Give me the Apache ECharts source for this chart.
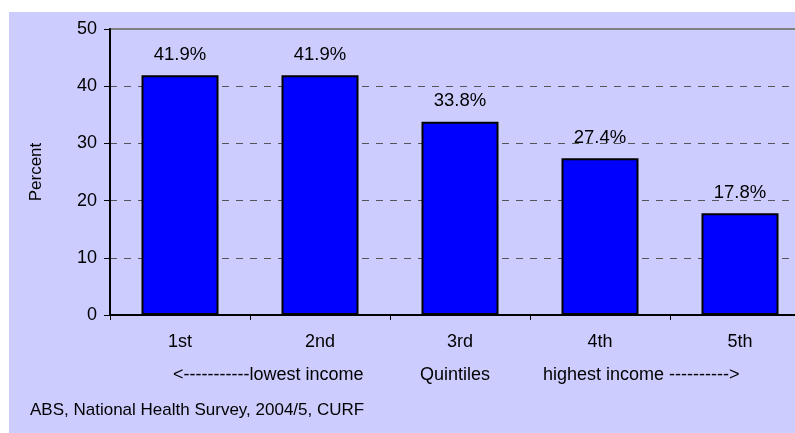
<!DOCTYPE html>
<html>
<head>
<meta charset="utf-8">
<script src="https://cdn.jsdelivr.net/npm/echarts@6/dist/echarts.min.js"></script>
<style>
  html, body { margin: 0; padding: 0; background: #fff; }
  #main { width: 795px; height: 433px; }
</style>
</head>
<body>
<div id="main"></div>
<script>
let quintiles = ['1st', '2nd', '3rd', '4th', '5th'];
let percents = [41.9, 41.9, 33.8, 27.4, 17.8];
let yTicks = [0, 10, 20, 30, 40, 50];
let source = 'ABS, National Health Survey, 2004/5, CURF';

let chart = echarts.init(document.getElementById('main'));
let font = 'Arial, "Liberation Sans", sans-serif';

let option = {
    animation: false,
    textStyle: { fontFamily: font },
    graphic: [
        {
            type: 'rect', z: -10,
            shape: { x: 9, y: 12, width: 800, height: 430 },
            style: { fill: '#ccccff' }
        },
        {
            type: 'text', left: 173, top: 366,
            style: { text: '<-----------lowest income', fontSize: 18, fontFamily: font, fill: '#000' }
        },
        {
            type: 'text', left: 420, top: 366,
            style: { text: 'Quintiles', fontSize: 18, fontFamily: font, fill: '#000' }
        },
        {
            type: 'text', left: 543, top: 366,
            style: { text: 'highest income ---------->', fontSize: 18, fontFamily: font, fill: '#000' }
        },
        {
            type: 'text', left: 30, top: 402,
            style: { text: source, fontSize: 17, fontFamily: font, fill: '#000' }
        }
    ],
    grid: {
        left: 110, top: 29, width: 700, height: 286,
        outerBoundsMode: 'none',
        containLabel: false,
        show: true, borderColor: '#808080', borderWidth: 2,
        backgroundColor: 'transparent'
    },
    xAxis: {
        type: 'category',
        data: quintiles,
        axisLine: { lineStyle: { color: '#000', width: 2 } },
        axisTick: { show: true, length: 5, lineStyle: { color: '#000' } },
        axisLabel: { color: '#000', fontSize: 18, margin: 18 }
    },
    yAxis: {
        type: 'value',
        min: yTicks[0],
        max: yTicks[yTicks.length - 1],
        interval: 10,
        name: 'Percent',
        nameLocation: 'middle',
        nameRotate: 90,
        nameGap: 65,
        nameTextStyle: { color: '#000', fontSize: 17 },
        axisLine: { show: true, lineStyle: { color: '#000', width: 2 } },
        axisTick: { show: true, length: 6, lineStyle: { color: '#000' } },
        axisLabel: { color: '#000', fontSize: 18, margin: 13 },
        splitLine: {
            show: true,
            showMinLine: false,
            showMaxLine: false,
            lineStyle: { color: '#555', type: [7, 7], width: 1 }
        }
    },
    series: [{
        type: 'bar',
        data: percents,
        barWidth: 77,
        itemStyle: { color: '#0000ff', borderColor: '#000', borderWidth: 2 },
        label: {
            show: true,
            position: 'top',
            distance: 11,
            color: '#000',
            fontSize: 18.5,
            formatter: (p) => p.value.toFixed(1) + '%'
        }
    }]
};

chart.setOption(option);
</script>
</body>
</html>
